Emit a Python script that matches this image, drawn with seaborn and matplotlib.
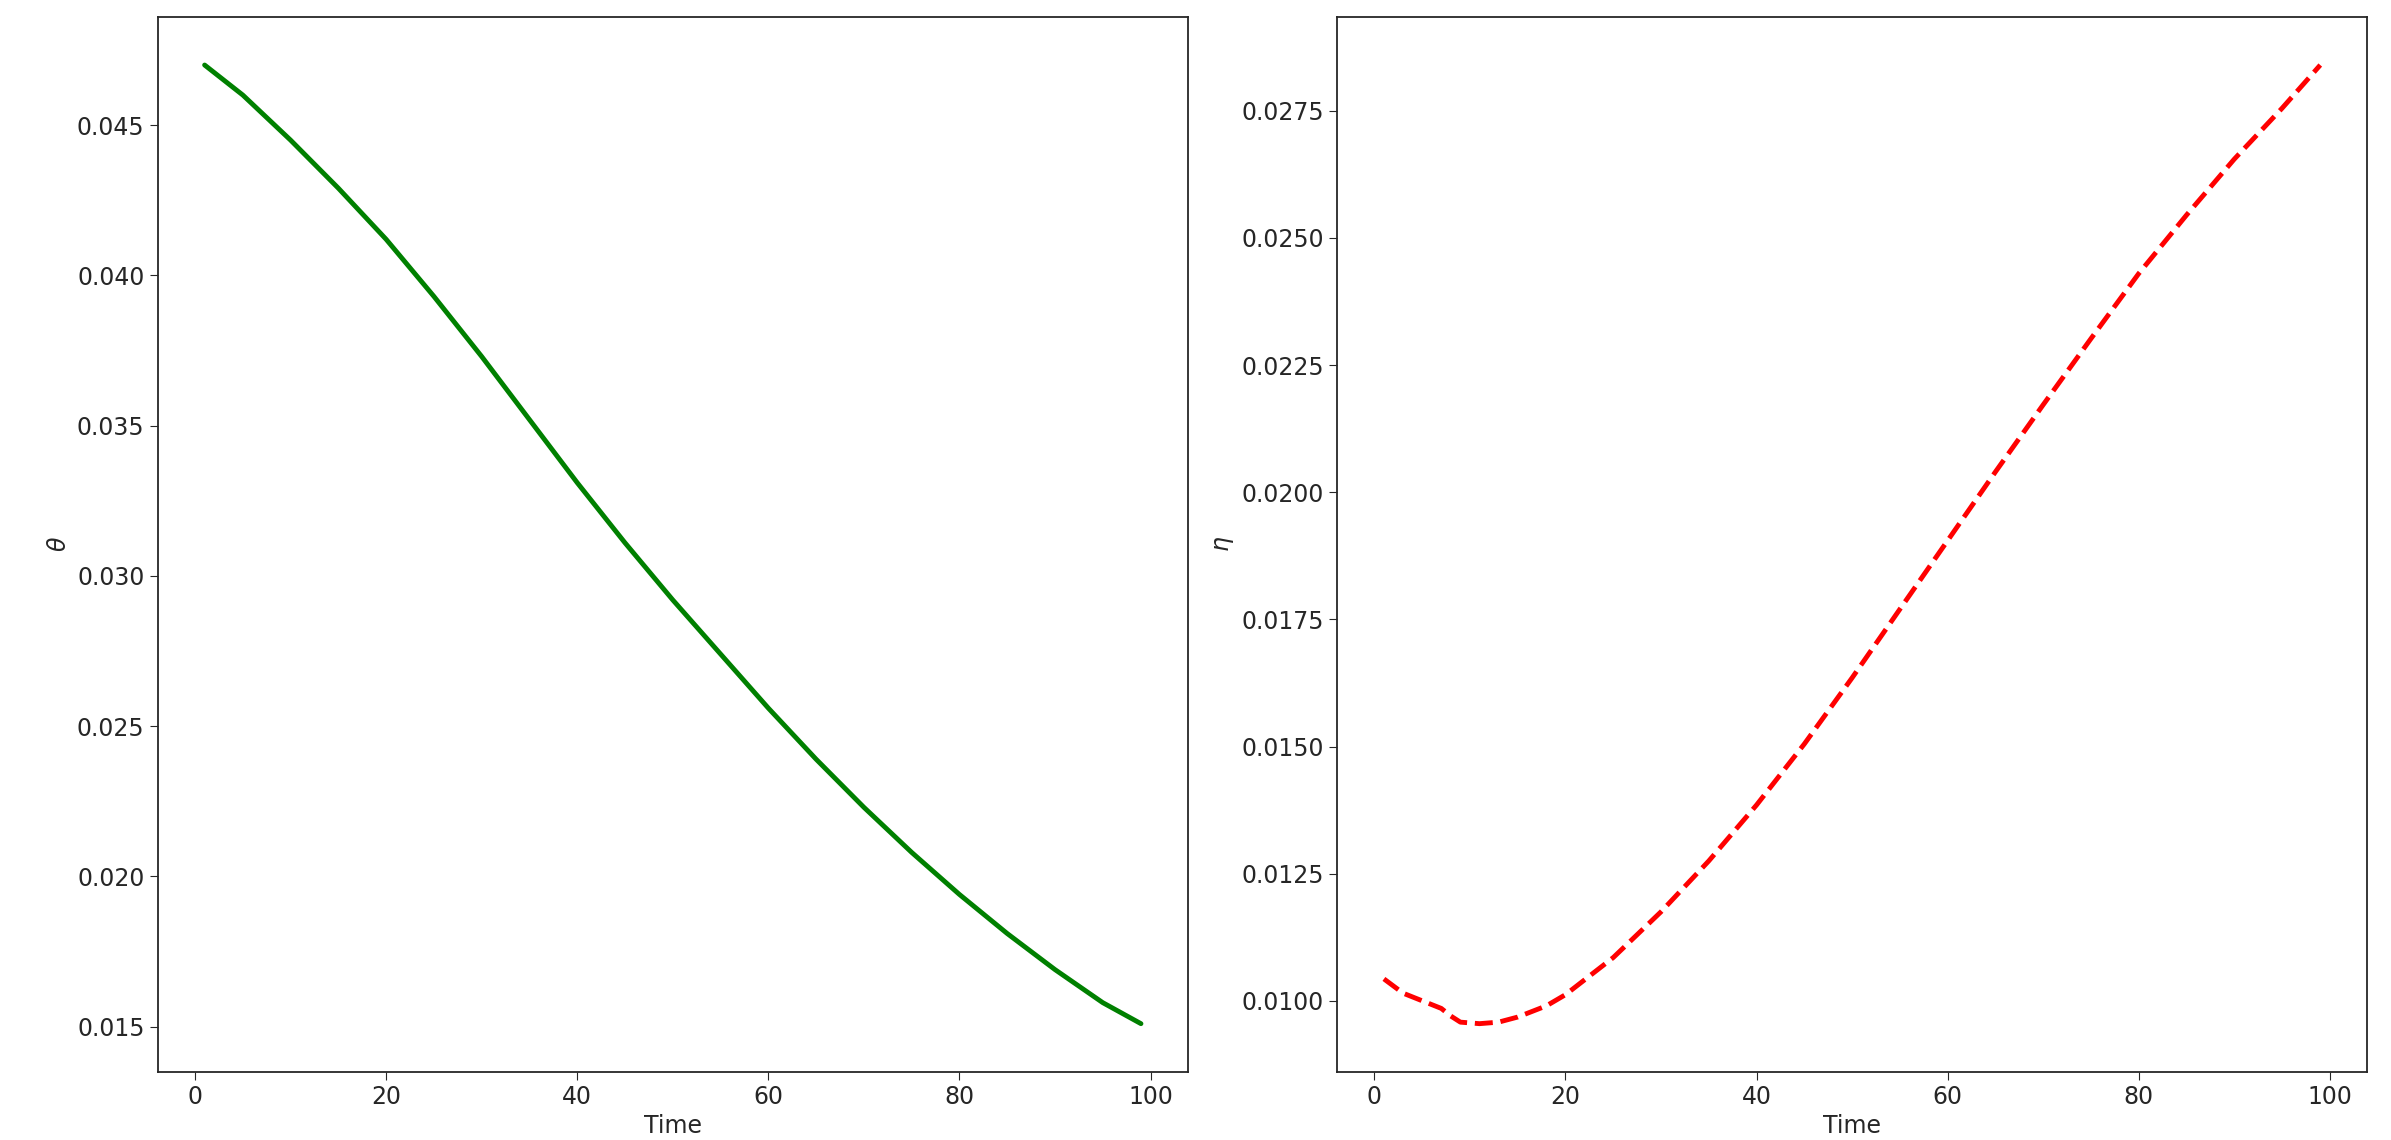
import matplotlib
matplotlib.use("Agg")
import matplotlib.pyplot as plt
import pandas as pd
import seaborn as sns

sns.set_style("ticks")
plt.rcParams["font.family"] = ["DejaVu Sans"]

# ── data ────────────────────────────────────────────────────────────────────
theta_time = [1, 5, 10, 15, 20, 25, 30, 35, 40, 45, 50, 55, 60, 65, 70, 75, 80, 85, 90, 95, 99]
theta_vals = [0.0470, 0.0460, 0.0445, 0.0429, 0.0412, 0.0393, 0.0373, 0.0352, 0.0331,
              0.0311, 0.0292, 0.0274, 0.0256, 0.0239, 0.0223, 0.0208, 0.0194, 0.0181,
              0.0169, 0.0158, 0.0151]

eta_time = [1, 3, 5, 7, 8, 9, 11, 13, 15, 18, 20, 25, 30, 35, 40, 45, 50, 55, 60,
            65, 70, 75, 80, 85, 90, 95, 99]
eta_vals = [0.01043, 0.01015, 0.01000, 0.00985, 0.00970, 0.00958, 0.00955, 0.00958,
            0.00968, 0.00990, 0.01012, 0.01085, 0.01175, 0.01275, 0.01385, 0.01505,
            0.01635, 0.01770, 0.01905, 0.02040, 0.02172, 0.02302, 0.02430, 0.02545,
            0.02655, 0.02755, 0.02840]

theta_df = pd.DataFrame({"Time": theta_time, "theta": theta_vals})
eta_df = pd.DataFrame({"Time": eta_time, "eta": eta_vals})

fig, axes = plt.subplots(1, 2, figsize=(23.91, 11.4), dpi=100)
fig.subplots_adjust(left=0.066, right=0.99, top=0.985, bottom=0.06, wspace=0.145)

sns.lineplot(data=theta_df, x="Time", y="theta", ax=axes[0], color="green", lw=3.5)
axes[0].set_ylabel(r"$\theta$", fontsize=17)
axes[0].set_xticks([0, 20, 40, 60, 80, 100])
axes[0].set_yticks([0.015, 0.020, 0.025, 0.030, 0.035, 0.040, 0.045])
axes[0].yaxis.set_major_formatter(matplotlib.ticker.FormatStrFormatter("%.3f"))

sns.lineplot(data=eta_df, x="Time", y="eta", ax=axes[1], color="red", lw=3.5, linestyle="--")
axes[1].set_ylabel(r"$\eta$", fontsize=17)
axes[1].set_xticks([0, 20, 40, 60, 80, 100])
axes[1].set_yticks([0.0100, 0.0125, 0.0150, 0.0175, 0.0200, 0.0225, 0.0250, 0.0275])
axes[1].yaxis.set_major_formatter(matplotlib.ticker.FormatStrFormatter("%.4f"))

for ax in axes:
    ax.set_xlabel("Time", fontsize=17)
    ax.tick_params(labelsize=17, length=6)
    for s in ax.spines.values():
        s.set_visible(True)
        s.set_linewidth(1.3)

plt.savefig("out.png", dpi=100)
